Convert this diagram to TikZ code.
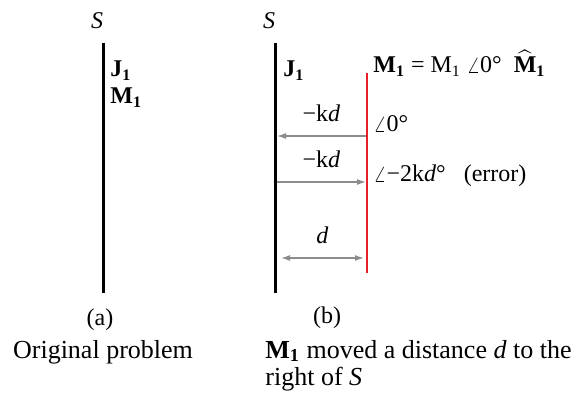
\documentclass[tikz,border=0pt]{standalone}
\usepackage{amsmath}
\usepackage{fontspec}
\setmainfont{Liberation Serif}
\usepackage{xcolor}
\definecolor{plred}{RGB}{232,30,40}
\definecolor{argray}{RGB}{140,140,140}
\usepackage{tikz}
\usetikzlibrary{arrows.meta}
\tikzset{
  lbl/.style={font=\fontsize{12}{14}\selectfont,inner sep=0pt},
  captxt/.style={font=\fontsize{13}{15.5}\selectfont,inner sep=0pt,align=left},
  sheet/.style={line width=1.5pt},
  msheet/.style={plred,line width=1pt},
  garrow/.style={argray,line width=0.7pt,-{Latex[length=4.5pt,width=3pt]}},
  gdim/.style={argray,line width=0.7pt,{Latex[length=4.5pt,width=3pt]}-{Latex[length=4.5pt,width=3pt]}}
}
\newcommand{\bsub}[1]{\textbf{#1\textsubscript{1}}}

\begin{document}
\begin{tikzpicture}[x=0.5pt,y=-0.5pt]
\useasboundingbox (0,0) rectangle (576,394);
% ---- (a) original problem ----
\coordinate (atop) at (103,43);
\coordinate (abot) at (103,293);
\draw[sheet] (atop) -- (abot);
\node[lbl,font=\fontsize{12}{14}\selectfont\itshape] (Sa) at (97,21) {S};
\node[lbl,anchor=base west] (Ja) at (110,77) {\bsub{J}};
\node[lbl,anchor=base west] (Ma) at (110,104) {\bsub{M}};
\node[lbl,anchor=base] (laba) at (100,325) {(a)};
\node[captxt,anchor=base] (capa) at (103,358) {Original problem};
% ---- (b) M1 moved by d ----
\coordinate (btop) at (275,43);
\coordinate (bbot) at (275,293);
\coordinate (rtop) at (367,73);
\coordinate (rbot) at (367,273);
\draw[sheet] (btop) -- (bbot);
\draw[msheet] (rtop) -- (rbot);
\node[lbl,font=\fontsize{12}{14}\selectfont\itshape] (Sb) at (269,21) {S};
\node[lbl,anchor=base west] (Jb) at (283,77) {\bsub{J}};
\node[lbl,anchor=base west] (Mb) at (373,73)
  {\bsub{M} = M\textsubscript{1} $\angle$0°\ \ $\widehat{\text{\textbf{M}}}$\textbf{\textsubscript{1}}};
% phase arrows
\coordinate (r1) at (366,136); \coordinate (b1) at (277,136);
\coordinate (b2) at (277,182); \coordinate (r2) at (366,182);
\coordinate (d1) at (281,258); \coordinate (d2) at (364,258);
\draw[garrow] (r1) -- (b1) node[lbl,midway,above=7pt,text=black] (kd1) {−k\textit{d}};
\draw[garrow] (b2) -- (r2) node[lbl,midway,above=7pt,text=black] (kd2) {−k\textit{d}};
\draw[gdim] (d1) -- (d2) node[lbl,midway,above=7pt,text=black] (dd) {\textit{d}};
\node[lbl,anchor=base west] (ph1) at (373,132) {$\angle$0°};
\node[lbl,anchor=base west] (ph2) at (373,182) {$\angle$−2k\textit{d}°\ \ \ (error)};
\node[lbl,anchor=base] (labb) at (327,323) {(b)};
\node[captxt,anchor=base west] (capb) at (265,358) {\bsub{M} moved a distance \textit{d} to the};
\node[captxt,anchor=base west] (capb2) at (265,385) {right of \textit{S}};
\end{tikzpicture}
\end{document}
